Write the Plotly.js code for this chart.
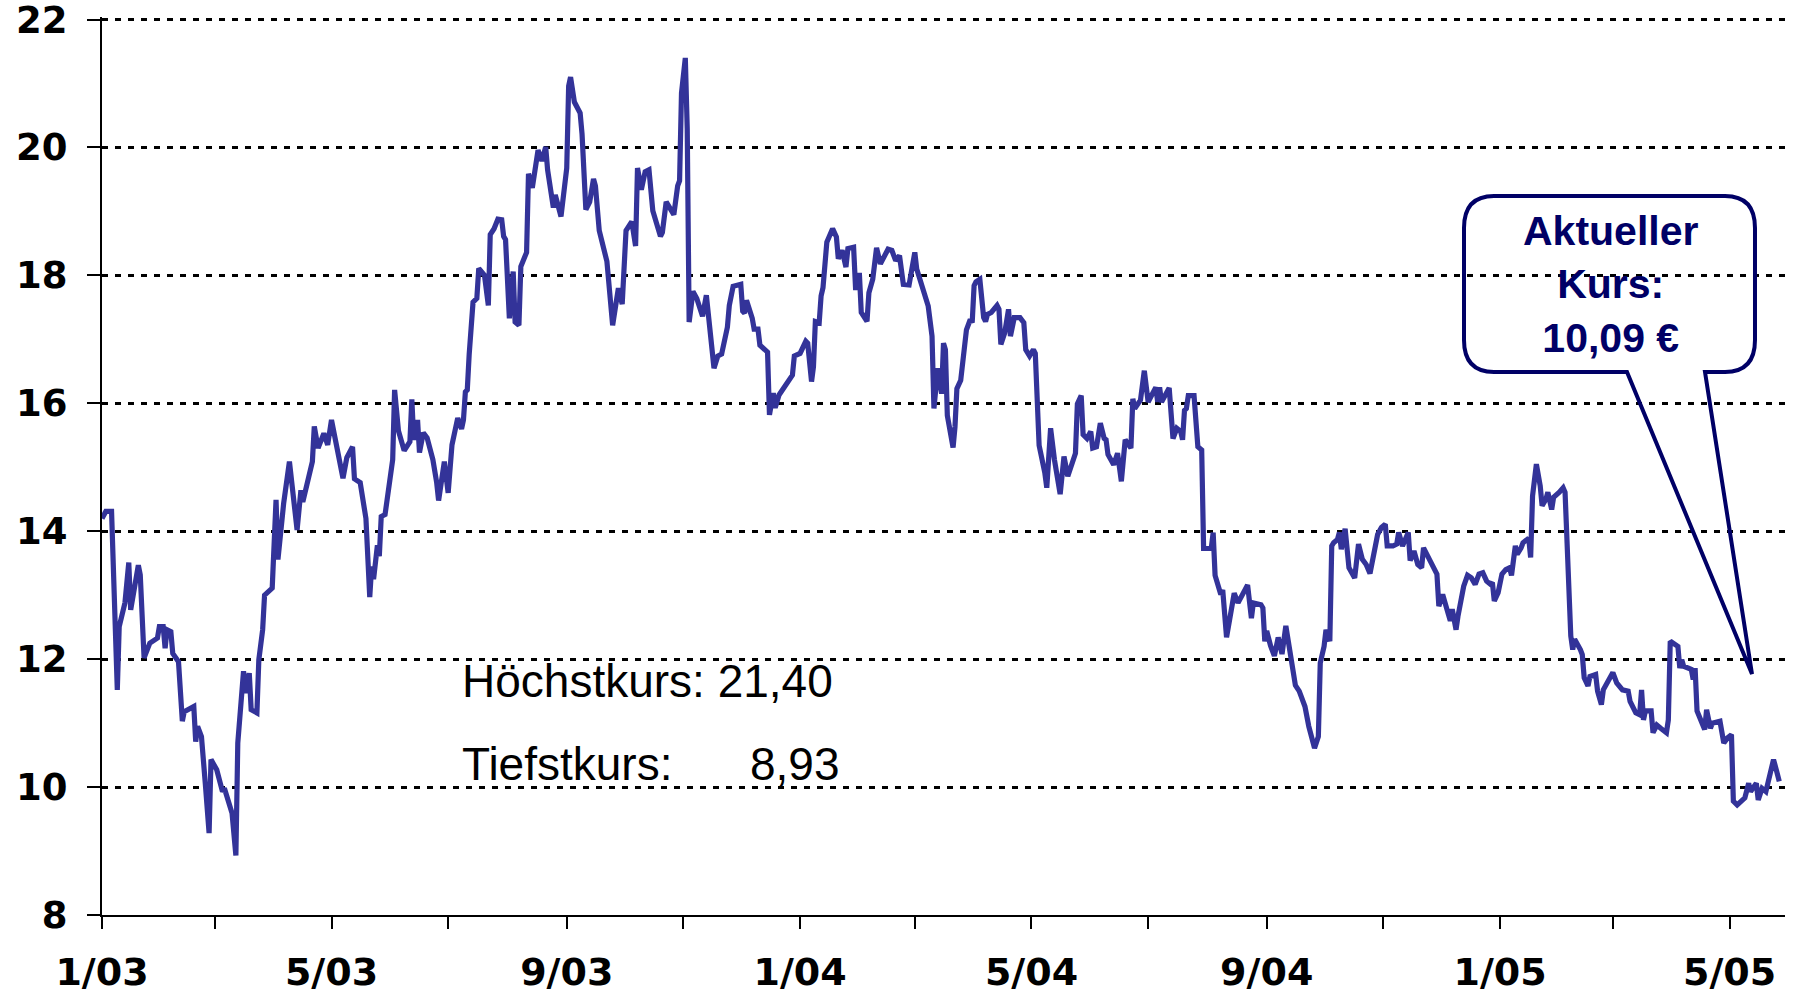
<!DOCTYPE html>
<html>
<head>
<meta charset="utf-8">
<script src="https://cdn.plot.ly/plotly-3.0.1.min.js"></script>
<style>html,body{margin:0;padding:0;background:#fff;}#chart{width:1798px;height:994px;}</style>
</head>
<body>
<div id="chart"></div>
<script>
// ---- data ----
const startDate = '2003-01-01';
// trading-day positions as day offsets from startDate
const dayOffsets = [0,2,5,8,9,12,14,15,19,20,22,25,29,30,32,33,34,36,37,40,42,43,48,49,50,52,54,56,57,60,63,64,68,70,71,74,75,77,78,81,82,84,85,89,91,92,95,98,102,104,105,110,111,113,116,118,120,123,125,126,128,131,132,135,138,140,141,142,144,145,146,148,152,153,155,158,161,162,163,165,166,168,170,173,175,176,179,181,183,186,188,189,190,191,192,194,196,197,200,202,203,205,207,209,210,211,213,215,216,218,219,222,223,225,228,230,232,233,236,237,240,243,244,245,247,250,251,253,255,257,258,260,264,267,270,272,274,277,279,280,282,284,286,288,292,293,295,299,301,302,303,305,306,307,309,311,314,315,316,320,322,324,327,328,330,334,335,336,337,340,341,343,344,348,349,351,352,354,356,361,362,365,368,369,371,372,373,375,376,377,379,381,382,384,385,387,389,390,393,394,395,396,397,400,401,403,405,407,411,413,415,417,419,422,425,426,429,432,434,435,437,439,440,441,442,445,446,447,449,452,454,455,456,457,459,461,462,463,465,468,469,470,472,474,475,477,480,482,483,485,487,488,490,492,493,494,496,498,501,503,505,507,509,510,512,513,515,517,518,520,522,524,525,526,529,531,533,535,538,539,540,543,545,547,549,551,552,553,554,556,558,560,562,564,565,566,567,568,571,573,575,576,578,580,581,582,585,586,588,592,594,599,601,602,606,607,608,609,611,613,615,617,619,621,624,626,629,631,634,636,637,639,640,642,643,644,646,647,648,650,651,652,655,657,659,661,663,665,667,669,671,672,675,677,678,680,681,683,684,686,688,690,691,693,696,698,699,701,704,705,706,708,709,712,714,716,718,720,722,724,726,727,728,730,732,734,736,737,739,740,742,743,746,747,748,750,752,753,755,756,758,759,762,764,765,767,768,769,770,773,774,775,777,778,781,782,784,785,788,790,792,795,798,799,802,804,805,806,807,810,811,813,815,818,819,820,824,825,826,827,831,832,833,834,838,839,841,842,846,848,850,852,853,855,859,861,862,865,866,868,870,871,873,874,875,877];
const prices = [14.20,14.31,14.31,11.52,12.51,12.88,13.51,12.77,13.47,13.32,12.02,12.25,12.33,12.51,12.51,12.17,12.46,12.43,12.09,11.96,11.03,11.18,11.26,10.71,10.95,10.79,10.06,9.28,10.43,10.27,9.93,9.98,9.59,8.93,10.69,11.81,11.47,11.78,11.21,11.16,11.99,12.46,13.00,13.11,14.49,13.56,14.44,15.09,14.02,14.64,14.46,15.09,15.64,15.30,15.53,15.35,15.74,15.32,14.96,14.83,15.15,15.32,14.82,14.76,14.20,12.97,13.45,13.25,13.78,13.61,14.23,14.26,15.12,16.21,15.57,15.26,15.40,16.06,15.43,15.74,15.23,15.54,15.46,15.12,14.76,14.48,15.09,14.60,15.35,15.77,15.60,15.74,16.18,16.21,16.77,17.58,17.64,18.11,18.00,17.53,18.64,18.73,18.88,18.87,18.61,18.56,17.33,18.06,17.27,17.22,18.14,18.36,19.59,19.37,19.96,19.79,20.01,19.65,19.06,19.26,18.92,19.68,20.96,21.10,20.71,20.54,20.21,19.03,19.15,19.51,19.40,18.70,18.22,17.22,17.80,17.55,18.70,18.84,18.46,19.68,19.34,19.62,19.65,19.01,18.61,18.67,19.15,18.95,19.40,19.48,20.85,21.40,20.29,17.27,17.75,17.64,17.36,17.61,17.69,16.55,16.74,16.77,17.19,17.53,17.83,17.86,17.44,17.41,17.61,17.33,17.16,17.16,16.91,16.80,15.82,16.16,15.93,16.13,16.21,16.44,16.74,16.78,16.97,16.94,16.34,16.57,17.28,17.26,17.68,17.81,18.52,18.65,18.73,18.60,18.26,18.39,18.13,18.42,18.44,17.81,17.81,18.04,17.42,17.28,17.73,17.94,18.43,18.18,18.41,18.39,18.23,18.31,17.86,17.85,18.36,18.10,17.84,17.52,17.05,15.92,16.55,16.15,16.94,16.84,15.81,15.31,15.63,16.23,16.36,17.15,17.31,17.26,17.84,17.90,17.94,17.34,17.28,17.39,17.42,17.53,17.47,16.92,17.10,17.47,17.05,17.34,17.34,17.26,16.84,16.74,16.84,16.78,15.34,15.10,14.91,14.68,15.61,15.12,14.58,15.17,14.86,15.04,15.22,15.99,16.12,15.51,15.45,15.56,15.30,15.32,15.69,15.45,15.43,15.20,15.04,15.22,14.78,15.43,15.30,16.07,15.92,16.05,16.51,16.02,16.15,16.25,16.02,16.25,16.02,16.15,16.24,15.45,15.61,15.56,15.43,15.89,15.92,16.12,16.12,15.32,15.27,13.73,13.73,13.73,13.98,13.31,13.01,13.08,12.34,13.03,12.88,13.16,12.64,12.88,12.85,12.80,12.28,12.44,12.21,12.05,12.34,12.08,12.52,12.13,11.59,11.50,11.26,10.95,10.61,10.79,11.94,12.20,12.46,12.28,13.77,13.82,13.87,13.98,13.72,14.04,13.61,13.43,13.27,13.80,13.56,13.48,13.34,13.67,13.95,14.06,14.11,13.77,13.77,13.80,13.98,13.77,13.85,13.98,13.54,13.69,13.48,13.43,13.74,13.62,13.46,13.33,12.83,13.01,12.70,12.60,12.78,12.46,12.67,13.14,13.31,13.27,13.17,13.33,13.35,13.22,13.17,13.20,12.91,13.04,13.33,13.40,13.43,13.31,13.77,13.64,13.74,13.82,13.89,13.59,14.55,15.05,14.71,14.40,14.50,14.61,14.34,14.53,14.61,14.68,14.61,13.14,12.36,12.15,12.31,12.15,12.07,11.71,11.58,11.73,11.76,11.50,11.29,11.52,11.68,11.79,11.63,11.52,11.50,11.34,11.16,11.13,11.52,11.05,11.19,11.19,10.85,10.97,10.92,10.85,11.05,12.28,12.20,11.86,11.99,11.89,11.84,11.68,11.86,11.19,10.90,11.21,10.92,11.00,11.03,10.69,10.77,10.82,9.78,9.72,9.83,10.06,9.93,10.06,9.80,9.98,9.93,10.06,10.30,10.43,10.32,10.09];

const xTickVals = ['2003-01-01','2003-03-01','2003-05-01','2003-07-01','2003-09-01','2003-11-01','2004-01-01','2004-03-01','2004-05-01','2004-07-01','2004-09-01','2004-11-01','2005-01-01','2005-03-01','2005-05-01'];
const xTickText = ['1/03','','5/03','','9/03','','1/04','','5/04','','9/04','','1/05','','5/05'];
const yTickVals = [8,10,12,14,16,18,20,22];
const xRange = ['2003-01-01','2005-05-30'];
const yRange = [8,22.04];

const highLabel = 'Höchstkurs: 21,40';
const lowLabel = 'Tiefstkurs:';
const lowValue = '8,93';
const calloutText = 'Aktueller<br>Kurs:<br>10,09 €';

// ---- build ----
function toIso(offset){
  const d = new Date(Date.parse(startDate + 'T00:00:00Z') + offset*86400000);
  return d.toISOString().slice(0,10);
}
const dates = dayOffsets.map(toIso);

const M = {l:102, r:13, t:17, b:79};
const W = 1798, H = 994;
const PW = W - M.l - M.r, PH = H - M.t - M.b;
const px = x => ((x - M.l)/PW).toFixed(5);
const py = y => (1 - (y - M.t)/PH).toFixed(5);

// callout outline (pixel geometry -> paper fractions)
const P = (x,y) => px(x)+','+py(y);
const calloutPath =
  'M'+P(1494,196)+' L'+P(1725,196)+' Q'+P(1755,196)+' '+P(1755,228)+
  ' L'+P(1755,340)+' Q'+P(1755,372)+' '+P(1725,372)+
  ' L'+P(1705,372)+' L'+P(1752,674)+' L'+P(1627,372)+
  ' L'+P(1494,372)+' Q'+P(1464,372)+' '+P(1464,340)+
  ' L'+P(1464,228)+' Q'+P(1464,196)+' '+P(1494,196)+' Z';

const trace = {
  x: dates, y: prices, type: 'scatter', mode: 'lines',
  line: {color: '#333399', width: 5.2, shape: 'linear'},
  hoverinfo: 'skip'
};

const tickFont = {family: 'DejaVu Sans, Verdana, sans-serif', color: '#000', weight: 'bold'};

const layout = {
  width: W, height: H,
  margin: M,
  paper_bgcolor: '#fff', plot_bgcolor: '#fff',
  showlegend: false,
  xaxis: {
    type: 'date', range: xRange,
    tickmode: 'array', tickvals: xTickVals, ticktext: xTickText,
    ticks: 'outside', ticklen: 12, tickwidth: 2, tickcolor: '#000',
    showline: true, linecolor: '#000', linewidth: 2,
    showgrid: false, zeroline: false,
    tickfont: Object.assign({size: 38}, tickFont),
    ticklabelstandoff: 10,
    ticklabeloverflow: 'allow'
  },
  yaxis: {
    range: yRange,
    tickmode: 'array', tickvals: yTickVals,
    ticks: 'outside', ticklen: 13, tickwidth: 2, tickcolor: '#000',
    showline: true, linecolor: '#000', linewidth: 2,
    showgrid: true, gridcolor: '#000', gridwidth: 3, griddash: '6px,7px',
    zeroline: false,
    tickfont: Object.assign({size: 37}, tickFont),
    ticklabelstandoff: 12,
    ticklabeloverflow: 'allow'
  },
  shapes: [{
    type: 'path', xref: 'paper', yref: 'paper', path: calloutPath,
    line: {color: '#000066', width: 4}, fillcolor: 'rgba(0,0,0,0)', layer: 'above'
  }],
  annotations: [
    {xref:'paper', yref:'paper', x: +px(460), y: +py(681), xanchor:'left', yanchor:'middle',
     text: highLabel, showarrow:false, font:{family:'Liberation Sans, Arial, sans-serif', size:46, color:'#000'}},
    {xref:'paper', yref:'paper', x: +px(460), y: +py(764), xanchor:'left', yanchor:'middle',
     text: lowLabel, showarrow:false, font:{family:'Liberation Sans, Arial, sans-serif', size:46, color:'#000'}},
    {xref:'paper', yref:'paper', x: +px(842), y: +py(764), xanchor:'right', yanchor:'middle',
     text: lowValue, showarrow:false, font:{family:'Liberation Sans, Arial, sans-serif', size:46, color:'#000'}},
    {xref:'paper', yref:'paper', x: +px(1610), y: +py(285), xanchor:'center', yanchor:'middle', align:'center',
     text: calloutText, showarrow:false, font:{family:'Liberation Sans, Arial, sans-serif', size:41, color:'#000066', weight:'bold'}}
  ]
};

Plotly.newPlot('chart', [trace], layout, {displayModeBar:false, staticPlot:true});
</script>
</body>
</html>
